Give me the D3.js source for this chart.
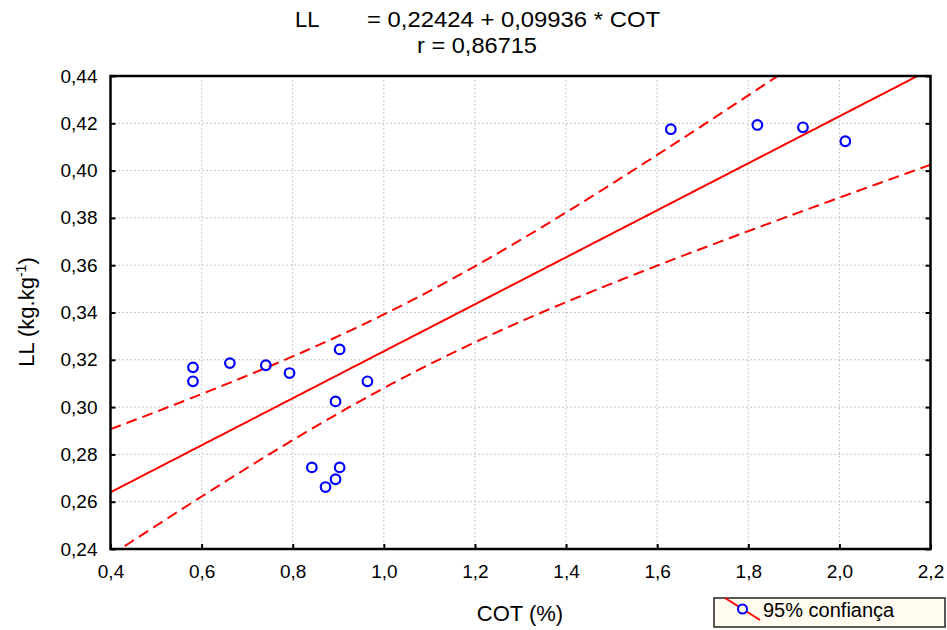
<!DOCTYPE html>
<html>
<head>
<meta charset="utf-8">
<script src="https://cdn.jsdelivr.net/npm/d3@7"></script>
<style>
  html, body { margin: 0; padding: 0; background: #fff; }
  text { font-family: "Liberation Sans", Arial, sans-serif; fill: #000; }
</style>
</head>
<body>
<svg id="chart" width="947" height="630"></svg>
<script>
// ---- data ----
const cot = [0.581, 0.581, 0.662, 0.741, 0.793, 0.903, 0.964, 0.894, 0.842, 0.903, 0.894, 0.872, 1.630, 1.820, 1.920, 2.013];
const ll  = [0.3168, 0.3109, 0.3186, 0.3177, 0.3144, 0.3244, 0.3109, 0.3024, 0.2745, 0.2745, 0.2695, 0.2662, 0.4175, 0.4193, 0.4183, 0.4124];
const xTicks = [0.4, 0.6, 0.8, 1.0, 1.2, 1.4, 1.6, 1.8, 2.0, 2.2];
const yTicks = [0.24, 0.26, 0.28, 0.30, 0.32, 0.34, 0.36, 0.38, 0.40, 0.42, 0.44];
const intercept = 0.22424;
const slope = 0.09936;
const titleLine1 = "= 0,22424 + 0,09936 * COT";
const titleLine2 = "r = 0,86715";
const legendLabel = "95% confiança";

// ---- layout ----
const svg = d3.select("#chart");
const L = 110.5, R = 930.5, T = 76, B = 549;
const x = d3.scaleLinear().domain([0.4, 2.2]).range([L, R]);
const y = d3.scaleLinear().domain([0.24, 0.44]).range([B, T]);
const loc = d3.formatLocale({decimal: ",", thousands: ".", grouping: [3], currency: ["", ""]});
const fx = loc.format(".1f"), fy = loc.format(".2f");

// grid
const grid = svg.append("g");
grid.selectAll("line.gx").data(xTicks.slice(1, -1)).join("line")
  .attr("x1", d => x(d)).attr("x2", d => x(d)).attr("y1", T).attr("y2", B)
  .attr("stroke", "#b8b8b8").attr("stroke-width", 1).attr("stroke-dasharray", "1.5,2.5");
grid.selectAll("line.gy").data(yTicks.slice(1, -1)).join("line")
  .attr("x1", L).attr("x2", R).attr("y1", d => y(d)).attr("y2", d => y(d))
  .attr("stroke", "#b8b8b8").attr("stroke-width", 1).attr("stroke-dasharray", "1.5,2.5");

// clip
svg.append("clipPath").attr("id", "clip").append("rect")
  .attr("x", L).attr("y", T).attr("width", R - L).attr("height", B - T);
const plot = svg.append("g").attr("clip-path", "url(#clip)");

// regression & 95% confidence band computed from the data
const n = cot.length;
const mx = d3.mean(cot);
const sxx = d3.sum(cot, v => (v - mx) ** 2);
const sse = d3.sum(cot.map((v, i) => (ll[i] - (intercept + slope * v)) ** 2));
const s = Math.sqrt(sse / (n - 2));
const tval = 2.1448;
const xs = d3.range(0, 181).map(i => 0.4 + i * 0.01);
const fit = v => intercept + slope * v;
const hw = v => tval * s * Math.sqrt(1 / n + (v - mx) ** 2 / sxx);
const line = d3.line().x(d => x(d[0])).y(d => y(d[1]));

plot.append("path").datum(xs.map(v => [v, fit(v)]))
  .attr("d", line).attr("fill", "none").attr("stroke", "#ff0000").attr("stroke-width", 2);
[1, -1].forEach(sg => {
  plot.append("path").datum(xs.map(v => [v, fit(v) + sg * hw(v)]))
    .attr("d", line).attr("fill", "none").attr("stroke", "#ff0000")
    .attr("stroke-width", 2).attr("stroke-dasharray", "11,6");
});

// points
plot.selectAll("circle.pt").data(cot.map((v, i) => [v, ll[i]])).join("circle")
  .attr("cx", d => x(d[0])).attr("cy", d => y(d[1])).attr("r", 4.8)
  .attr("fill", "none").attr("stroke", "#0000ff").attr("stroke-width", 2.2);

// axes
const axL = svg.append("g").attr("transform", `translate(${L},0)`)
  .call(d3.axisLeft(y).tickValues(yTicks).tickFormat(fy).tickSizeInner(-5).tickSizeOuter(0).tickPadding(13));
const axR = svg.append("g").attr("transform", `translate(${R},0)`)
  .call(d3.axisRight(y).tickValues(yTicks).tickFormat("").tickSizeInner(-5).tickSizeOuter(0));
const axB = svg.append("g").attr("transform", `translate(0,${B})`)
  .call(d3.axisBottom(x).tickValues(xTicks).tickFormat(fx).tickSizeInner(-5).tickSizeOuter(0).tickPadding(16));
[axL, axR, axB].forEach(a => {
  a.select(".domain").remove();
  a.selectAll(".tick line").attr("stroke", "#000").attr("stroke-width", 2);
  a.selectAll("text").attr("font-size", 19).attr("font-family", "Liberation Sans, Arial, sans-serif").attr("fill", "#000");
});

// frame
svg.append("rect").attr("x", L).attr("y", T).attr("width", R - L).attr("height", B - T)
  .attr("fill", "none").attr("stroke", "#000").attr("stroke-width", 2.5);

// titles
svg.append("text").attr("x", 295).attr("y", 27).attr("font-size", 22).text("LL");
svg.append("text").attr("x", 367).attr("y", 27).attr("font-size", 22)
  .attr("textLength", 293).attr("lengthAdjust", "spacingAndGlyphs").text(titleLine1);
svg.append("text").attr("x", 477).attr("y", 53).attr("font-size", 22).attr("text-anchor", "middle")
  .attr("textLength", 120).attr("lengthAdjust", "spacingAndGlyphs").text(titleLine2);

// axis labels
svg.append("text").attr("x", 520).attr("y", 621).attr("font-size", 22).attr("text-anchor", "middle").text("COT (%)");
const yl = svg.append("text").attr("transform", "translate(34,312) rotate(-90)")
  .attr("font-size", 22).attr("text-anchor", "middle");
yl.append("tspan").text("LL (kg.kg");
yl.append("tspan").attr("font-size", 14).attr("dy", -8).text("-1");
yl.append("tspan").attr("dy", 8).text(")");

// legend
const lg = svg.append("g");
lg.append("rect").attr("x", 714).attr("y", 598).attr("width", 231).attr("height", 29)
  .attr("fill", "#fffbef").attr("stroke", "#222").attr("stroke-width", 1.5);
lg.append("line").attr("x1", 725).attr("y1", 598).attr("x2", 760).attr("y2", 620)
  .attr("stroke", "#ff0000").attr("stroke-width", 2);
lg.append("circle").attr("cx", 742.5).attr("cy", 609).attr("r", 4.5)
  .attr("fill", "#fffbef").attr("stroke", "#0000ff").attr("stroke-width", 2);
lg.append("text").attr("x", 763).attr("y", 617).attr("font-size", 20).text(legendLabel);
</script>
</body>
</html>
